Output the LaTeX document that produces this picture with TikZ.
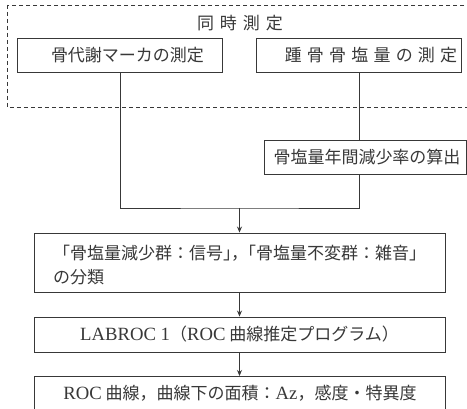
\documentclass[tikz,border=0pt]{standalone}
\usepackage{fontspec}
\setmainfont{Noto Sans CJK JP}
\newfontfamily\lat{Liberation Serif}[Scale=1.1]
\usetikzlibrary{arrows.meta}
\definecolor{ink}{rgb}{0.22,0.22,0.22}
\tikzset{
  box/.style={draw=ink, line width=0.9pt, rectangle, inner sep=0pt, text=ink,
    font=\fontsize{17}{24}\selectfont},
  label/.style={text=ink, inner sep=0pt, font=\fontsize{17}{24}\selectfont},
  conn/.style={draw=ink, line width=0.9pt},
  arr/.style={conn, -{Stealth[length=6pt,width=5pt]}},
}
\newcommand{\gapsp}{\hspace{5.2pt}}
\newcommand{\gapwide}{\hspace{6pt}}
\begin{document}
\begin{tikzpicture}[x=1pt,y=-1pt]
\clip (0,0) rectangle (467,409);
\fill[white] (0,0) rectangle (467,409);
% dashed group
\draw[ink, line width=0.9pt, dash pattern=on 4pt off 3pt] (7,5) rectangle (480,107);
\node[label] (title) at (240,23) {同\gapwide 時\gapwide 測\gapwide 定};
\node[box, minimum width=205pt, minimum height=34pt] (box1) at (120,55) {\hspace{15pt}骨代謝マーカの測定};
\node[box, minimum width=205pt, minimum height=34pt] (box2) at (359,55) {\hspace{24pt}踵\gapsp 骨\gapsp 骨\gapsp 塩\gapsp 量\gapsp の\gapsp 測\gapsp 定};
\node[box, minimum width=202pt, minimum height=34pt] (box3) at (365,157) {\hspace{4pt}骨塩量年間減少率の算出};
\node[box, minimum width=411pt, minimum height=59pt] (box4) at (239.5,262.5) {};
\node[label, anchor=west, align=left] (t4) at (53,265)
  {「骨塩量減少群：信号」\hspace{-9pt}，\hspace{-9pt}「骨塩量不変群：雑音」\\の分類};
\node[box, minimum width=411pt, minimum height=35pt] (box5) at (239.5,334.5)
  {{\lat LABROC 1}（{\lat ROC} 曲線推定プログラム）};
\node[box, minimum width=411pt, minimum height=40pt, anchor=north] (box6) at (239.5,376) {};
\node[label] (t6) at (240,393)
  {{\lat ROC} 曲線，曲線下の面積：{\lat Az}，感度・特異度};
\coordinate (join) at (239.5,208);
\draw[conn] (box2.south) -- (box2.south |- box3.north);
\draw[conn] (box1.south) |- (join) -| (box2.south |- box3.south);
\draw[arr] (join) -- (box4.north);
\draw[arr] (box4.south) -- (box5.north);
\draw[arr] (box5.south) -- (box6.north);
\end{tikzpicture}
\end{document}
